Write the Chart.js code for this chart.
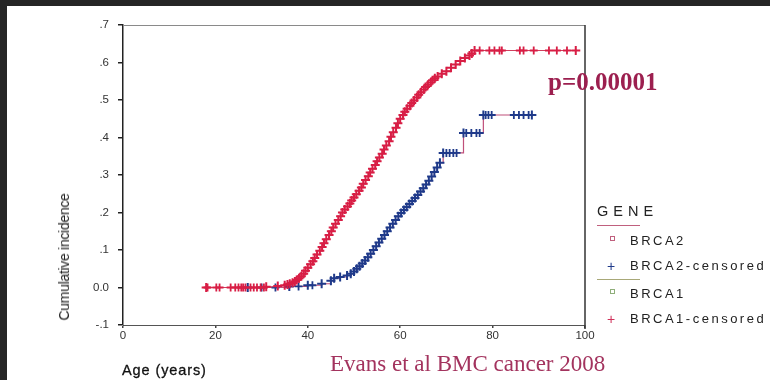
<!DOCTYPE html>
<html><head><meta charset="utf-8">
<script src="https://cdn.jsdelivr.net/npm/chart.js@4/dist/chart.umd.min.js"></script>
<style>
html,body{margin:0;padding:0;background:#fff;}
#wrap{position:relative;width:770px;height:380px;overflow:hidden;background:#fff;font-family:"Liberation Sans",Arial,sans-serif;}
#frameL{position:absolute;left:0;top:0;width:7px;height:380px;background:#262626;}
#frameT{position:absolute;left:0;top:0;width:770px;height:6px;background:#262626;}
canvas{position:absolute;left:0;top:0;}
.t{position:absolute;white-space:nowrap;line-height:1;}
#ytitle{left:64px;top:257px;transform:translate(-50%,-50%) rotate(-90deg);font-size:14px;color:#222;letter-spacing:-0.3px;}
#xtitle{left:122px;top:363px;font-size:14.5px;color:#111;letter-spacing:0.9px;-webkit-text-stroke:0.3px #111;}
#cite{left:330px;top:352px;font-family:"Liberation Serif","Times New Roman",serif;font-size:23px;color:#a3335e;}
#pval{left:548px;top:69px;font-family:"Liberation Serif","Times New Roman",serif;font-size:25px;font-weight:bold;color:#9c1f4f;}
.lg{position:absolute;white-space:nowrap;line-height:1;font-size:13px;letter-spacing:2.5px;color:#222;}
#gene{left:597px;top:204px;font-size:14.5px;letter-spacing:5px;color:#222;}
.ln{position:absolute;height:1px;width:43px;left:597px;}
.sq{position:absolute;width:3px;height:3px;border:1px solid;left:610px;}
</style>
</head><body>
<div id="wrap">
<canvas id="c" width="770" height="380"></canvas>
<div id="frameL"></div><div id="frameT"></div>
<div class="t" id="ytitle">Cumulative incidence</div>
<div class="t" id="xtitle">Age (years)</div>
<div class="t" id="cite">Evans et al BMC cancer 2008</div>
<div class="t" id="pval">p=0.00001</div>
<div class="lg" id="gene">GENE</div>
<div class="ln" style="top:225px;background:#c0607e;"></div>
<div class="sq" style="top:236px;border-color:#c0607e;"></div>
<div class="lg" style="left:630px;top:234px;">BRCA2</div>
<div class="lg" style="left:607px;top:259px;color:#1f3a8a;font-size:14px;letter-spacing:0;">+</div>
<div class="lg" style="left:630px;top:259px;">BRCA2-censored</div>
<div class="ln" style="top:279px;background:#a8a878;"></div>
<div class="sq" style="top:289px;border-color:#8fae7a;"></div>
<div class="lg" style="left:630px;top:287px;">BRCA1</div>
<div class="lg" style="left:607px;top:312px;color:#d0305a;font-size:14px;letter-spacing:0;">+</div>
<div class="lg" style="left:630px;top:312px;">BRCA1-censored</div>
</div>
<script>
// ---- data ----
const xTickValues = [0, 20, 40, 60, 80, 100];
const xTickLabels = ['0', '20', '40', '60', '80', '100'];
const yTickValues = [-0.1, 0, 0.1, 0.2, 0.3, 0.4, 0.5, 0.6, 0.7];
const yTickLabels = ['-.1', '0.0', '.1', '.2', '.3', '.4', '.5', '.6', '.7'];

// BRCA1 cumulative incidence step curve (event ages / values)
const brca1Age = [18, 31, 33.5, 35, 35.6, 36.1, 36.7, 37.2, 37.6, 38.1, 38.6, 39.1, 39.5, 40, 40.6, 41.1, 41.5, 42, 42.6, 43.1, 43.5, 44, 44.6, 45.1, 45.5, 46, 46.6, 47.1, 47.5, 48, 48.6, 49.1, 49.5, 50, 50.5, 51.1, 51.6, 52, 52.5, 53.1, 53.5, 54, 54.6, 55, 55.5, 56.1, 56.5, 57, 57.6, 58, 58.5, 59.1, 59.5, 60, 60.6, 61, 61.5, 62.1, 62.5, 63, 63.6, 64, 64.5, 65.1, 65.5, 66, 66.6, 67, 67.5, 68.1, 69, 70, 71, 72, 73, 74, 75, 75.5, 76.1, 98];
const brca1Inc = [0, 0.002, 0.004, 0.006, 0.008, 0.01, 0.013, 0.016, 0.02, 0.025, 0.03, 0.037, 0.045, 0.053, 0.062, 0.07, 0.079, 0.088, 0.098, 0.108, 0.118, 0.129, 0.14, 0.15, 0.16, 0.17, 0.18, 0.19, 0.2, 0.208, 0.216, 0.224, 0.232, 0.24, 0.249, 0.258, 0.267, 0.277, 0.287, 0.297, 0.307, 0.317, 0.327, 0.337, 0.347, 0.357, 0.368, 0.379, 0.39, 0.402, 0.414, 0.426, 0.438, 0.45, 0.46, 0.469, 0.477, 0.485, 0.492, 0.499, 0.507, 0.514, 0.521, 0.528, 0.535, 0.541, 0.547, 0.553, 0.558, 0.563, 0.57, 0.577, 0.586, 0.595, 0.604, 0.612, 0.619, 0.624, 0.632, 0.632];
// BRCA1 censored marks
const brca1CensAge = [18.3, 20.2, 20.9, 23.3, 24.3, 25, 25.6, 26, 26.5, 27.6, 28.3, 29, 29.8, 30.5, 77.2, 79.3, 80.4, 81.5, 82, 85.9, 86.7, 88.9, 92.2, 93.9, 96.1];
const brca1CensInc = [0, 0, 0, 0, 0, 0, 0, 0, 0, 0, 0, 0, 0, 0, 0.632, 0.632, 0.632, 0.632, 0.632, 0.632, 0.632, 0.632, 0.632, 0.632, 0.632];

// BRCA2 cumulative incidence step curve
const brca2Age = [27, 36, 40, 43, 45, 45.7, 47, 48.5, 49.3, 50, 50.6, 51.2, 51.8, 52.4, 53, 53.6, 54.2, 54.8, 55.4, 56, 56.6, 57.2, 57.8, 58.4, 59, 59.6, 60.2, 60.8, 61.4, 62, 62.6, 63.2, 63.8, 64.4, 65, 65.6, 66.2, 66.8, 67.4, 68, 68.6, 69.3, 73.7, 78, 88.5];
const brca2Inc = [0, 0.003, 0.006, 0.01, 0.018, 0.025, 0.028, 0.032, 0.037, 0.043, 0.05, 0.057, 0.064, 0.072, 0.081, 0.09, 0.1, 0.11, 0.12, 0.13, 0.14, 0.15, 0.16, 0.17, 0.18, 0.19, 0.199, 0.207, 0.215, 0.223, 0.231, 0.239, 0.247, 0.256, 0.265, 0.275, 0.285, 0.296, 0.308, 0.32, 0.333, 0.359, 0.412, 0.46, 0.46];
// BRCA2 censored marks
const brca2CensAge = [30, 33, 38, 41, 70, 70.7, 71.5, 72.2, 74.3, 75.4, 76.5, 77.2, 78.5, 79.1, 79.8, 84.6, 85.7, 86.7, 87.8];
const brca2CensInc = [0, 0, 0.003, 0.006, 0.359, 0.359, 0.359, 0.359, 0.412, 0.412, 0.412, 0.412, 0.46, 0.46, 0.46, 0.46, 0.46, 0.46, 0.46];

const RED = '#d81e45';
const BLUE = '#1f3a8a';
const pts = (a, b) => a.map((x, i) => ({x: x, y: b[i]}));

const boxPlugin = {
  id: 'box',
  beforeDatasetsDraw(chart) {
    const {ctx, chartArea: a} = chart;
    ctx.save();
    ctx.lineWidth = 1;
    ctx.strokeStyle = '#8a8a8a';
    ctx.beginPath();
    ctx.moveTo(a.left, a.top + 0.5); ctx.lineTo(a.right, a.top + 0.5);
    ctx.stroke();
    ctx.strokeStyle = '#333';
    ctx.lineWidth = 1.5;
    ctx.beginPath();
    ctx.moveTo(a.right, a.top); ctx.lineTo(a.right, a.bottom + 4);
    ctx.stroke();
    ctx.restore();
  }
};

new Chart(document.getElementById('c'), {
  type: 'line',
  data: {
    datasets: [
      {label: 'BRCA1-censored', data: pts(brca1CensAge, brca1CensInc), showLine: false,
       pointStyle: 'cross', pointRadius: 4, borderColor: RED, borderWidth: 1.8, backgroundColor: RED},
      {label: 'BRCA1', data: pts(brca1Age, brca1Inc), stepped: true, borderColor: '#d0405e', borderWidth: 1.2,
       pointStyle: 'cross', pointRadius: 4.5, pointBorderColor: RED, pointBorderWidth: 2, fill: false},
      {label: 'BRCA2-censored', data: pts(brca2CensAge, brca2CensInc), showLine: false,
       pointStyle: 'cross', pointRadius: 4, borderColor: BLUE, borderWidth: 1.8, backgroundColor: BLUE},
      {label: 'BRCA2', data: pts(brca2Age, brca2Inc), stepped: true, borderColor: '#c0507a', borderWidth: 1.2,
       pointStyle: 'cross', pointRadius: 4.5, pointBorderColor: BLUE, pointBorderWidth: 2, fill: false}
    ]
  },
  options: {
    responsive: false, animation: false, devicePixelRatio: 1,
    layout: {padding: {left: 0, top: 25, right: 185, bottom: 0}},
    plugins: {legend: {display: false}, tooltip: {enabled: false}},
    scales: {
      x: {type: 'linear', min: 0, max: 100,
          afterBuildTicks: s => { s.ticks = xTickValues.map(v => ({value: v})); },
          ticks: {callback: (v, i) => xTickLabels[i], color: '#333', font: {family: 'Liberation Sans', size: 11.5}, padding: 1, maxRotation: 0, autoSkip: false},
          grid: {drawOnChartArea: false, tickLength: 3, color: '#444', lineWidth: 1.5},
          border: {color: '#555', width: 1},
          afterFit: s => { s.height = 55; }},
      y: {type: 'linear', min: -0.1, max: 0.7,
          afterBuildTicks: s => { s.ticks = yTickValues.map(v => ({value: v})); },
          ticks: {callback: (v, i) => yTickLabels[i], color: '#333', font: {family: 'Liberation Sans', size: 11.5}, padding: 9, autoSkip: false},
          grid: {drawOnChartArea: false, tickLength: 5, color: '#222', lineWidth: 1.5},
          border: {color: '#222', width: 1.5},
          afterFit: s => { s.width = 123; }}
    }
  },
  plugins: [boxPlugin]
});
</script>
</body></html>
